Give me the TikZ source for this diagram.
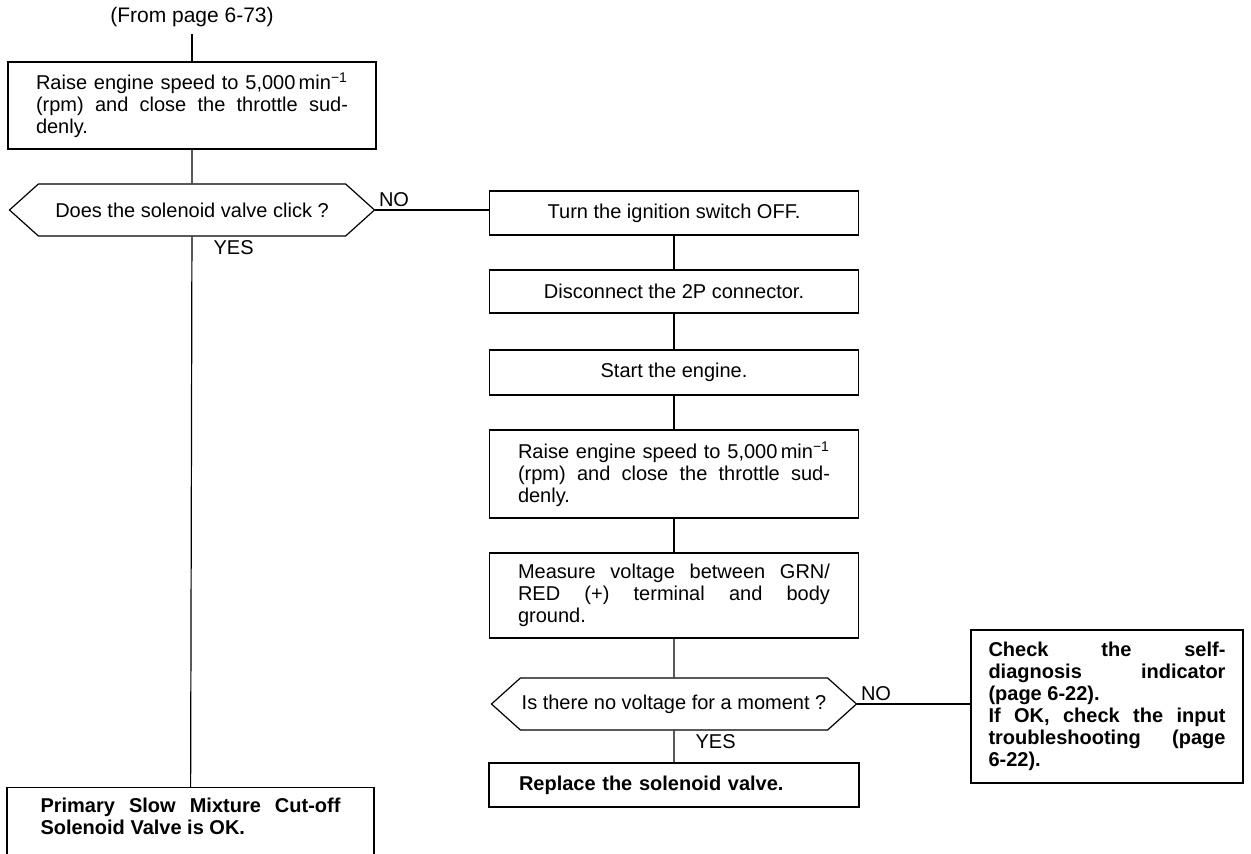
\documentclass[tikz,border=0pt]{standalone}
\usepackage{fontspec}
\setmainfont{Liberation Sans}
\usetikzlibrary{shapes.symbols}
\newcommand\chartfont{\fontsize{10}{11}\selectfont}
\tikzset{
  stepbox/.style={draw, minimum width=184.5pt, minimum height=22pt, inner sep=0pt},
  parbox/.style={stepbox, text width=156pt, align=justify},
  askbox/.style={draw, signal, signal to=west and east, signal pointer angle=84,
                 minimum width=182.5pt, minimum height=26pt, inner sep=0pt},
  endbox/.style={draw, align=justify, font=\chartfont\bfseries},
  tag/.style={inner sep=1.5pt}
}

\begin{document}
\begin{tikzpicture}[x=0.5pt, y=-0.5pt, line width=0.6pt, font=\chartfont]
      \useasboundingbox (0,0) rectangle (1251,854);
      \clip (0,0) rectangle (1251,854);
      % left column
      \node (from) at (192,17) {\fontsize{10.5}{11}\selectfont (From page 6-73)};
      \node[parbox, minimum width=184pt, minimum height=43.5pt] (speed) at (192,105.5)
        {Raise engine speed to 5,000\,min\textsuperscript{\char"2212 1}\linebreak
         (rpm) and close the throttle sud-\linebreak denly.};
      \node[askbox] (click) at (192,210) {Does the solenoid valve click ?};
      \node[endbox, anchor=north, minimum width=183.5pt, text width=150pt,
            inner ysep=5pt, text depth=30pt] (ok) at (190.5,787)
        {Primary Slow Mixture Cut-off\linebreak Solenoid Valve is OK.};
      % right column
      \node[stepbox] (off) at (674,213) {Turn the ignition switch OFF.};
      \node[stepbox, minimum height=21.5pt] (plug) at (674,291.5) {Disconnect the 2P connector.};
      \node[stepbox, minimum height=22.5pt] (start) at (674,372.5) {Start the engine.};
      \node[parbox, minimum height=44pt] (speedb) at (674,474)
        {Raise engine speed to 5,000\,min\textsuperscript{\char"2212 1}\linebreak
         (rpm) and close the throttle sud-\linebreak denly.};
      \node[parbox, minimum height=42.5pt] (measure) at (674,595.5)
        {Measure voltage between GRN/\linebreak RED (+) terminal and body\linebreak ground.};
      \node[askbox] (volt) at (674,704) {Is there no voltage for a moment ?};
      \node[stepbox, minimum width=185pt, text width=155pt, align=left,
            font=\chartfont\bfseries] (swap) at (674,785) {Replace the solenoid valve.};
      \node[endbox, minimum width=136pt, minimum height=76.5pt, text width=118.5pt] (diag) at (1107,706.5)
        {Check the self-\linebreak diagnosis indicator\linebreak (page 6-22).\\
         If OK, check the input\linebreak troubleshooting (page\linebreak 6-22).};
      % connectors
      \draw (from) -- (speed);
      \draw (speed) -- (click);
      \draw (click) -- (ok);
      \draw (click.east) -- (click.east -| off.west);
      \draw (off) -- (plug);
      \draw (plug) -- (start);
      \draw (start) -- (speedb);
      \draw (speedb) -- (measure);
      \draw (measure) -- (volt);
      \draw (volt) -- (swap);
      \draw (volt.east) -- (volt.east -| diag.west);
      \node[tag, anchor=south west] (no1) at (click.east) {NO};
      \node[tag, anchor=north west, xshift=9pt] (yes1) at (click.south) {YES};
      \node[tag, anchor=south west] (no2) at (volt.east) {NO};
      \node[tag, anchor=north west, xshift=9pt] (yes2) at (volt.south) {YES};
    \end{tikzpicture}
\end{document}
